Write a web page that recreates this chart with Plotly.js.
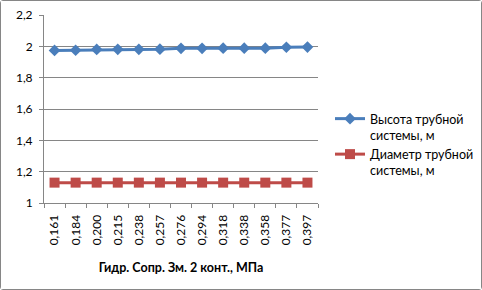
<!DOCTYPE html>
<html><head><meta charset="utf-8">
<script src="https://cdn.plot.ly/plotly-3.0.1.min.js"></script>
<style>
html,body{margin:0;padding:0;background:#fff;}
#chart{width:480px;height:288px;border:1px solid #868686;border-radius:3px;}
</style></head>
<body><div id="chart"></div>
<script>
const categories = ["0,161","0,184","0,200","0,215","0,238","0,257","0,276","0,294","0,318","0,338","0,358","0,377","0,397"];
const heightValues = [1.974,1.975,1.980,1.981,1.981,1.982,1.987,1.987,1.988,1.988,1.988,1.994,1.995];
const diameterValues = [1.13,1.13,1.13,1.13,1.13,1.13,1.13,1.13,1.13,1.13,1.13,1.13,1.13];
const seriesNames = ["Высота трубной<br>системы, м","Диаметр трубной<br>системы, м"];
const xTitle = "Гидр. Сопр. Зм. 2 конт., МПа";
const yTicks = [1,1.2,1.4,1.6,1.8,2,2.2];

const font = "Lato, 'Liberation Sans', sans-serif";
const data = [
  {x: categories, y: heightValues, name: seriesNames[0], type: 'scatter', mode: 'lines+markers',
   line: {color: '#4A7EBB', width: 3}, marker: {symbol: 'diamond', size: 9, color: '#4A7EBB'}},
  {x: categories, y: diameterValues, name: seriesNames[1], type: 'scatter', mode: 'lines+markers',
   line: {color: '#BE4B48', width: 3}, marker: {symbol: 'square', size: 10, color: '#BE4B48'}}
];
const layout = {
  width: 480, height: 288,
  margin: {l: 43, r: 163, t: 14, b: 86, pad: 0},
  paper_bgcolor: '#fff', plot_bgcolor: '#fff',
  separators: ', ',
  font: {family: font, size: 12, color: '#000'},
  showlegend: true,
  legend: {xref: 'container', yref: 'container', x: 329/480, y: 1 - 103/288, xanchor: 'left', yanchor: 'top',
    font: {family: font, size: 12.5, color: '#000'}, tracegroupgap: 6, valign: 'top', bgcolor: 'rgba(0,0,0,0)'},
  xaxis: {type: 'category', tickangle: -90, ticks: 'outside', ticklen: 4, tickcolor: '#868686',
    tickson: 'boundaries', showline: true, linecolor: '#868686', linewidth: 1, showgrid: false,
    tickfont: {family: font, size: 12}, ticklabelstandoff: 6, range: [-0.5, categories.length - 0.5],
    title: {text: '<b>' + xTitle + '</b>', font: {family: font, size: 12.5}, standoff: 18}},
  yaxis: {range: [1, 2.2], tickvals: yTicks, ticks: 'outside', ticklen: 4, tickcolor: '#868686',
    showline: true, linecolor: '#868686', gridcolor: '#868686', gridwidth: 1, zeroline: false,
    tickfont: {family: font, size: 12}, ticklabelstandoff: 4}
};
Plotly.newPlot('chart', data, layout, {staticPlot: true, displayModeBar: false});
</script></body></html>
